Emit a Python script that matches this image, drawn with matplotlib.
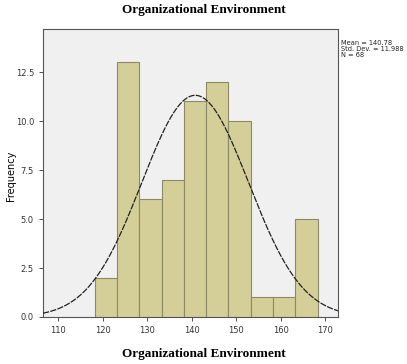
import matplotlib
matplotlib.use("Agg")
import matplotlib.pyplot as plt
import numpy as np

# histogram data
bin_edges = [118.25, 123.25, 128.25, 133.25, 138.25, 143.25, 148.25, 153.25, 158.25, 163.25, 168.25]
counts = [2, 13, 6, 7, 11, 12, 10, 1, 1, 5]
mean_val = 140.78
std_val = 11.988
n_val = 68

x_ticks = [110, 120, 130, 140, 150, 160, 170]
y_ticks = [0.0, 2.5, 5.0, 7.5, 10.0, 12.5]

fig = plt.figure(figsize=(4.07, 3.64), dpi=100)
ax = fig.add_axes([43 / 407, 1 - 317 / 364, (338 - 43) / 407, (317 - 29) / 364])
ax.set_facecolor("#f0f0f0")

widths = np.diff(bin_edges)
ax.bar(bin_edges[:-1], counts, width=widths, align="edge",
       color="#d4cf98", edgecolor="#8c8a66", linewidth=0.8, zorder=2)

# normal curve
xs = np.linspace(106.6, 172.85, 400)
bw = widths[0]
ys = n_val * bw / (std_val * np.sqrt(2 * np.pi)) * np.exp(-0.5 * ((xs - mean_val) / std_val) ** 2)
ax.plot(xs, ys, color="#222222", linewidth=0.9, linestyle=(0, (5, 1)), zorder=3)

ax.set_xlim(106.6, 172.85)
ax.set_ylim(0, 14.7)
ax.set_xticks(x_ticks)
ax.set_yticks(y_ticks)
ax.set_yticklabels([f"{v:.1f}" for v in y_ticks])
ax.tick_params(labelsize=6, colors="#333333", length=3, width=0.6)
for s in ax.spines.values():
    s.set_color("#555555")
    s.set_linewidth(0.8)

fig.text(11 / 407, 1 - 176 / 364, "Frequency", rotation=90, ha="center", va="center", fontsize=7)

fig.text(0.5, 1 - 10 / 364, "Organizational Environment", ha="center", va="center",
         family="Liberation Serif", weight="bold", fontsize=9.5)
fig.text(0.5, 1 - 354 / 364, "Organizational Environment", ha="center", va="center",
         family="Liberation Serif", weight="bold", fontsize=9.5)

fig.text(341 / 407, 1 - 49 / 364,
         f"Mean = {mean_val:.2f}\nStd. Dev. = {std_val:.3f}\nN = {n_val}",
         ha="left", va="center", fontsize=4.8, linespacing=1.0, color="#222222")

fig.savefig("out.png", dpi=100)
